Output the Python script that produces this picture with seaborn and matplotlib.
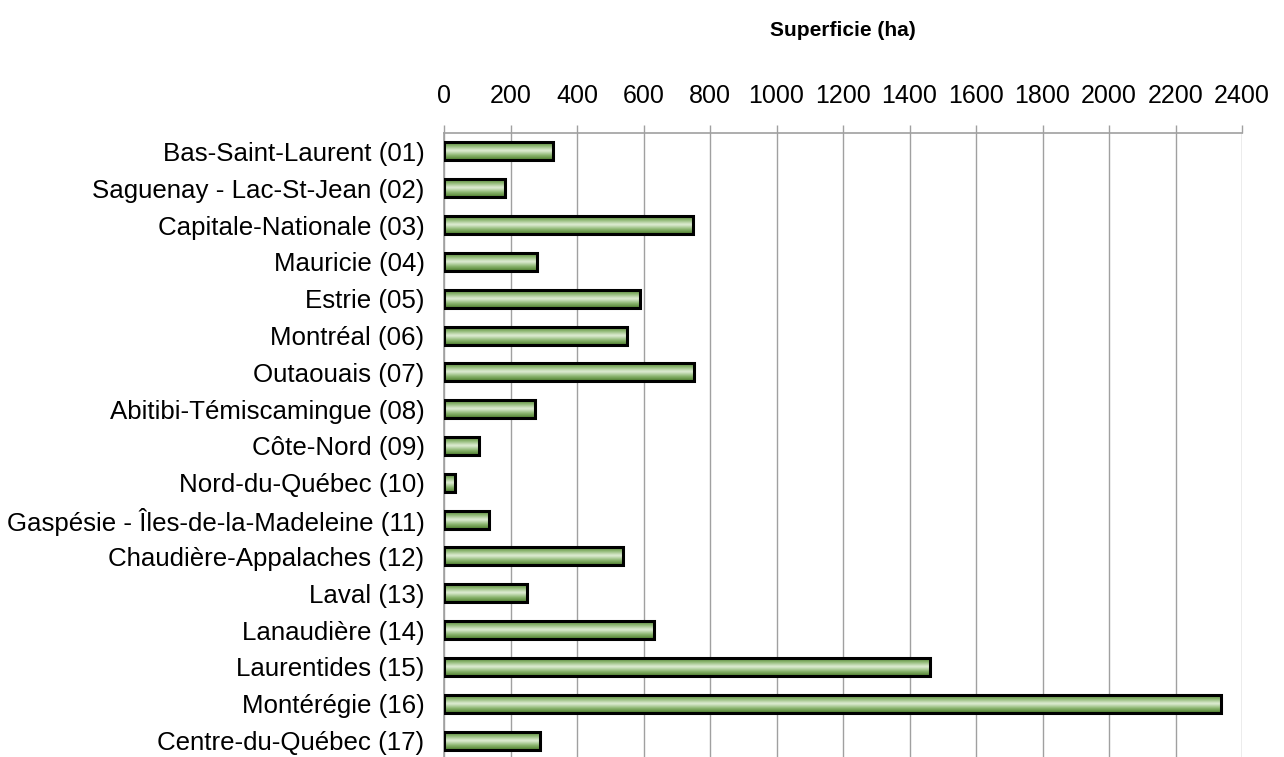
import numpy as np
import matplotlib
matplotlib.use("Agg")
import matplotlib.pyplot as plt
import seaborn as sns
from matplotlib.colors import LinearSegmentedColormap

regions = ['Bas-Saint-Laurent (01)', 'Saguenay - Lac-St-Jean (02)', 'Capitale-Nationale (03)',
           'Mauricie (04)', 'Estrie (05)', 'Montréal (06)', 'Outaouais (07)',
           'Abitibi-Témiscamingue (08)', 'Côte-Nord (09)', 'Nord-du-Québec (10)',
           'Gaspésie - Îles-de-la-Madeleine (11)', 'Chaudière-Appalaches (12)', 'Laval (13)',
           'Lanaudière (14)', 'Laurentides (15)', 'Montérégie (16)', 'Centre-du-Québec (17)']
superficie = [327, 182, 748, 279, 590, 549, 753, 274, 104, 32, 134, 537, 249, 632, 1461, 2336, 289]
xticks = list(range(0, 2401, 200))

sns.set_style("white")
plt.rcParams['font.family'] = ['Liberation Sans', 'DejaVu Sans']
plt.rcParams['text.color'] = 'black'
plt.rcParams['xtick.labelcolor'] = 'black'
plt.rcParams['ytick.labelcolor'] = 'black'

fig = plt.figure(figsize=(12.84, 7.57), dpi=100)
ax = fig.add_axes([444/1284, 1-759/757, 798/1284, (759-133)/757])

sns.barplot(x=superficie, y=regions, orient='h', width=0.49, color='white',
            edgecolor='black', linewidth=2.2, ax=ax, zorder=3)

# excel-like gradient fill (dark edges, light middle)
cmap = LinearSegmentedColormap.from_list('g', ['#4d7d2c', '#8cb670', '#e2efd8', '#8cb670', '#4d7d2c'])
grad = np.linspace(0, 1, 64).reshape(-1, 1)
for p in ax.patches:
    x0, y0 = p.get_x(), p.get_y()
    w, h = p.get_width(), p.get_height()
    p.set_facecolor('none')
    ax.imshow(grad, cmap=cmap, aspect='auto', extent=[x0, x0 + w, y0 + h, y0],
              zorder=2.5, interpolation='bicubic')

ax.set_xlim(0, 2400)
ax.set_ylim(len(regions) - 0.5, -0.5)
ax.xaxis.tick_top()
ax.set_xticks(xticks)
ax.set_xticklabels([str(t) for t in xticks], fontsize=18)
ax.tick_params(axis='x', length=5.8, color='#a0a0a0', pad=12, width=1)
ax.tick_params(axis='y', which='major', length=0, pad=14, labelsize=18.6)
ax.set_yticks(np.arange(len(regions) + 1) - 0.5, minor=True)
ax.tick_params(axis='y', which='minor', length=5.5, color='#a0a0a0', width=1.2)
ax.grid(axis='x', color='#a0a0a0', linewidth=1, zorder=0)
ax.set_axisbelow(True)
ax.set_xlabel('')
ax.set_ylabel('')

for s in ['bottom', 'right']:
    ax.spines[s].set_visible(False)
for s in ['top', 'left']:
    ax.spines[s].set_color('#a0a0a0')
    ax.spines[s].set_linewidth(1.2)

fig.text((444 + 1242) / 2 / 1284, 1 - 31 / 757, 'Superficie (ha)', ha='center', va='center',
         fontsize=15, fontweight='bold')

fig.savefig('out.png', dpi=100)
